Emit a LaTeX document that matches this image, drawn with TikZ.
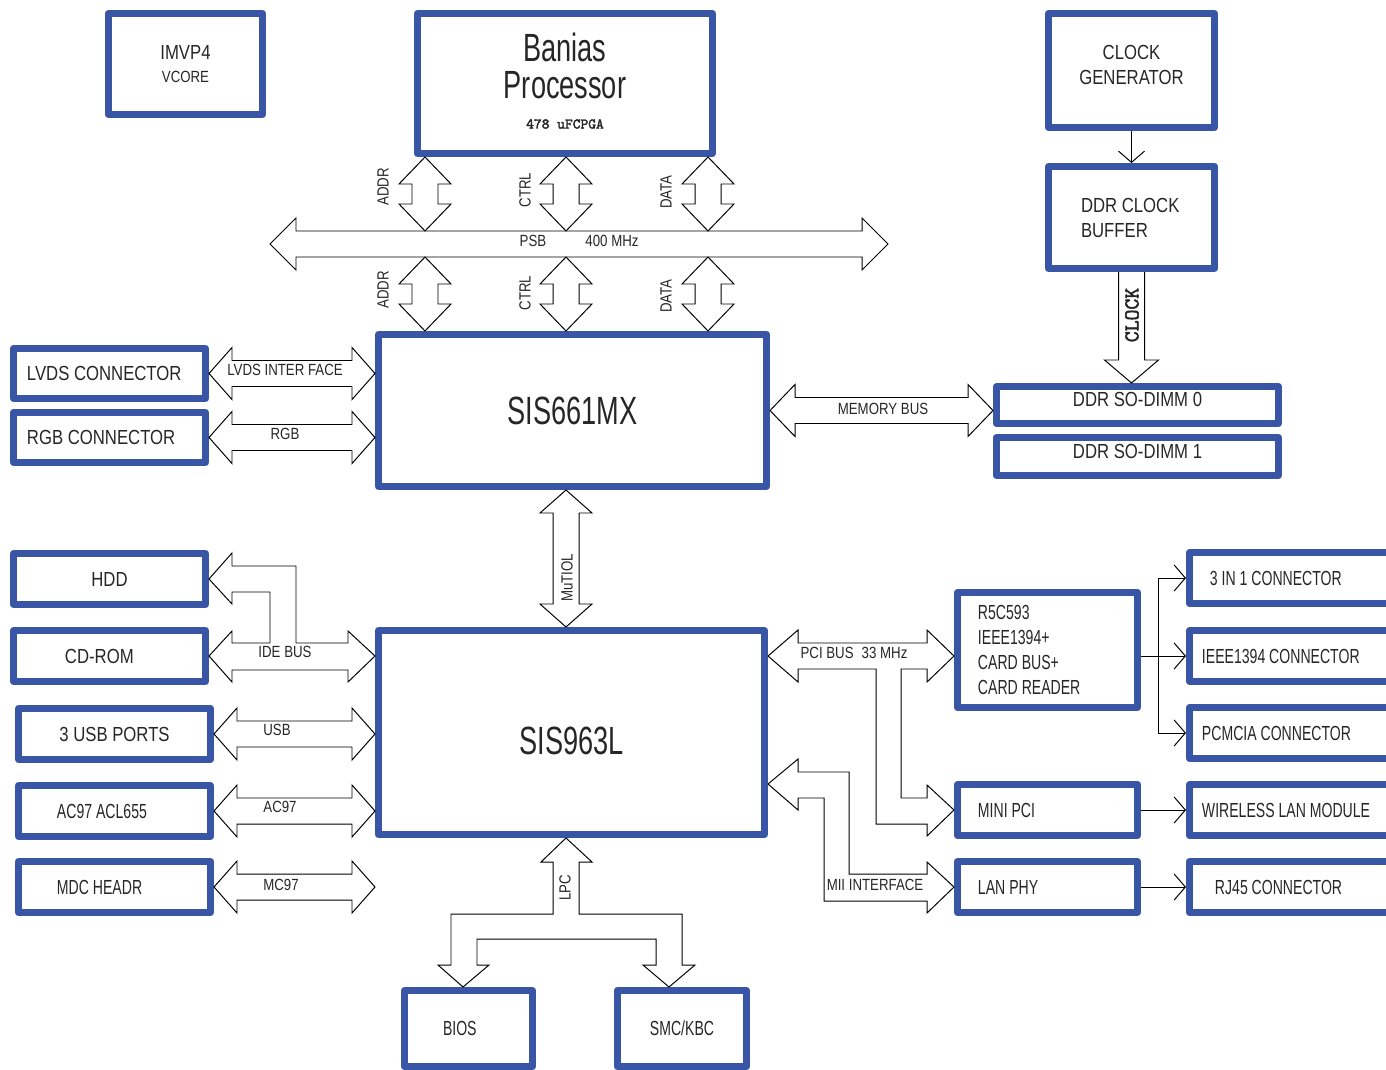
\documentclass[tikz,border=0pt]{standalone}
\usepackage{fontspec}
\setmainfont{Liberation Sans}[FakeStretch=0.82]
\newfontfamily\narrowfont{Liberation Sans}[FakeStretch=0.69]
\newfontfamily\codefont{Latin Modern Mono}[FakeBold=2.5]
\usetikzlibrary{calc,arrows.meta}
\definecolor{boxblue}{RGB}{57,85,165}
\colorlet{ink}{black!85}
\newcommand\midsize{\fontsize{14.5}{17.8}\selectfont}
\newcommand\smallsize{\fontsize{11.5}{14}\selectfont}
\newcommand\bigsize{\fontsize{28}{26.3}\selectfont}
\newcommand\narrowmid{\narrowfont\midsize}
\newcommand\hbus[3][23]{\draw[bus] (#2) -- ++(#1,-26) -- ++(0,13)
  -- ($(#3)+(-#1,-13)$) -- ++(0,-13) -- (#3) -- ++(-#1,26) -- ++(0,-13)
  -- ($(#2)+(#1,13)$) -- ++(0,13) -- cycle;}
\newcommand\vbus[3][23]{\draw[bus] (#2) -- ++(26,#1) -- ++(-13,0)
  -- ($(#3)+(13,-#1)$) -- ++(13,0) -- (#3) -- ++(-26,-#1) -- ++(13,0)
  -- ($(#2)+(-13,#1)$) -- ++(-13,0) -- cycle;}
\begin{document}
\begin{tikzpicture}[
  x=0.025cm, y=-0.025cm,
  every node/.style={text=ink, inner sep=0pt},
  wh/.style 2 args={minimum width=#1*0.025cm, minimum height=#2*0.025cm},
  box/.style={draw=boxblue, line width=0.175cm, line join=round,
    font=\midsize, align=center},
  lbox/.style={box, align=flush left, text width=#1},
  nbox/.style={lbox=#1, font=\narrowmid},
  bus/.style={draw=black, fill=white, line width=0.7pt},
  lab/.style={font=\smallsize},
  barb/.style={-{Straight Barb[length=0.28cm, width=0.65cm]}, line width=0.7pt}
  ]
\useasboundingbox (0,0) rectangle (1386,1070);
\clip (0,0) rectangle (1386,1070);

\node[box, wh={154}{101}] (imvp) at (185.5,64) {IMVP4\\[-2pt]{\smallsize VCORE}};
\node[box, wh={295}{140}, font=\narrowfont\bigsize, text depth=0.9cm]
  (banias) at (565,83.5) {Banias\\Processor};
\node[font=\codefont\fontsize{10.5}{12}\selectfont] (pkg) at (565,124) {478 uFCPGA};
\node[box, wh={166}{114}, text depth=0.275cm] (clkgen) at (1131.5,70.5) {CLOCK\\GENERATOR};
\node[lbox=2.525cm, wh={166}{102}] (clkbuf) at (1131.5,217.5) {DDR~CLOCK\\BUFFER};
\node[box, wh={282}{37}, text depth=0.3cm] (dimm0) at (1137.5,405) {DDR SO-DIMM 0};
\node[box, wh={282}{38}, text depth=0.275cm] (dimm1) at (1137.5,456.5) {DDR SO-DIMM 1};
\node[box, wh={388}{152}, font=\narrowfont\bigsize] (sis661) at (572.5,410.5) {SIS661MX};
\node[box, wh={386}{204}, font=\narrowfont\bigsize, text height=1.1cm]
  (sis963) at (571.5,732.5) {SIS963L};

\node[lbox=4.125cm, wh={192}{50}] (lvds) at (109.5,373.5) {LVDS~CONNECTOR};
\node[lbox=4.125cm, wh={192}{50}] (rgb) at (109.5,437.5) {RGB~CONNECTOR};
\node[box, wh={192}{51}] (hdd) at (109.5,579) {HDD};
\node[lbox=2.225cm, wh={192}{51}] (cdrom) at (109.5,656) {CD-ROM};
\node[box, wh={192}{51}] (usb) at (114.5,734) {3 USB PORTS};
\node[nbox=2.875cm, wh={192}{51}] (ac97) at (114.5,811) {AC97 ACL655};
\node[nbox=2.875cm, wh={192}{51}] (mdc) at (114.5,887) {MDC HEADR};
\node[nbox=1.275cm, wh={128}{76}] (bios) at (468.5,1028.5) {BIOS};
\node[box, wh={129}{76}, font=\narrowmid] (smc) at (682,1028.5) {SMC/KBC};

\node[nbox=3.475cm, wh={180}{115}] (r5c) at (1047.5,650)
  {R5C593\\IEEE1394+\\CARD BUS+\\CARD READER};
\node[nbox=3.475cm, wh={180}{51}] (minipci) at (1047.5,810) {MINI PCI};
\node[nbox=3.475cm, wh={180}{51}] (lanphy) at (1047.5,887) {LAN PHY};
\node[nbox=4.9cm, wh={237}{51}] (in31) at (1308,578) {3 IN 1 CONNECTOR};
\node[nbox=5.3cm, wh={237}{51}] (ieee) at (1308,656) {IEEE1394 CONNECTOR};
\node[nbox=5.3cm, wh={237}{51}] (pcmcia) at (1308,733) {PCMCIA CONNECTOR};
\node[nbox=5.3cm, wh={237}{51}] (wlan) at (1308,810) {WIRELESS LAN MODULE};
\node[nbox=4.65cm, wh={237}{51}] (rj45) at (1308,887) {RJ45 CONNECTOR};

\coordinate (psbL) at (270,244);
\coordinate (psbR) at (888,244);
\hbus[26]{psbL}{psbR}
\foreach \x [count=\i] in {425,566,708} {
  \coordinate (up\i) at (\x,0 |- banias.south);
  \coordinate (dn\i) at (\x,0 |- sis661.north);
  \vbus[27]{up\i}{\x,231}
  \vbus[27]{\x,257}{dn\i}
}
\coordinate (mutop) at (566,0 |- sis661.south);
\coordinate (mubot) at (566,0 |- sis963.north);
\vbus{mutop}{mubot}

\coordinate (lvdsR) at (lvds.east -| sis661.west);
\coordinate (rgbR) at (rgb.east -| sis661.west);
\coordinate (usbR) at (usb.east -| sis963.west);
\coordinate (ac97R) at (ac97.east -| sis963.west);
\coordinate (mdcR) at (mdc.east -| sis963.west);
\coordinate (memR) at (sis661.east -| dimm0.west);
\hbus{lvds.east}{lvdsR}
\hbus{rgb.east}{rgbR}
\hbus{usb.east}{usbR}
\hbus{ac97.east}{ac97R}
\hbus{mdc.east}{mdcR}
\hbus[25]{sis661.east}{memR}

\draw[bus] (cdrom.east) -- (232,631) -- (232,643) -- (270,643) -- (270,592)
  -- (232,592) -- (232,604) -- (hdd.east) -- (232,553) -- (232,566)
  -- (296,566) -- (296,643) -- (348,643) -- (348,631) -- (sis963.west |- cdrom)
  -- (348,682) -- (348,670) -- (232,670) -- (232,682) -- cycle;
\draw[bus] (sis963.east |- ieee) -- (798,630) -- (798,643) -- (927,643)
  -- (927,630) -- (r5c.west |- ieee) -- (927,682) -- (927,669) -- (901,669)
  -- (901,798) -- (927,798) -- (927,785) -- (minipci.west) -- (927,836)
  -- (927,824) -- (876,824) -- (876,669) -- (798,669) -- (798,682) -- cycle;
\draw[bus] (sis963.east |- 0,784) -- (798,759) -- (798,772) -- (849,772)
  -- (849,874) -- (927,874) -- (927,862) -- (lanphy.west) -- (927,913)
  -- (927,901) -- (824,901) -- (824,798) -- (798,798) -- (798,810) -- cycle;
\draw[bus] (566,0 |- sis963.south) -- (592,862) -- (579,862) -- (579,914)
  -- (682,914) -- (682,965) -- (695,965) -- (669,0 |- smc.north) -- (643,965)
  -- (656,965) -- (656,939) -- (477,939) -- (477,965) -- (489,965)
  -- (463,0 |- bios.north) -- (438,965) -- (451,965) -- (451,914)
  -- (553,914) -- (553,862) -- (541,862) -- cycle;
\draw[bus] ($(clkbuf.south)+(-13,0)$) -- ++(0,88) -- ++(-14,0)
  -- (clkbuf.south |- dimm0.north) -- ++(27,-23) -- ++(-14,0)
  -- ($(clkbuf.south)+(13,0)$);

\coordinate (fan) at (1158,656);
\draw[barb] (clkgen) -- (clkbuf);
\draw[barb] (r5c.east |- ieee) -- (ieee.west);
\draw[line width=0.7pt] (fan |- in31) -- (fan |- pcmcia);
\draw[barb] (fan |- in31) -- (in31.west);
\draw[barb] (fan |- pcmcia) -- (pcmcia.west);
\draw[barb] (minipci) -- (wlan);
\draw[barb] (lanphy) -- (rj45);

\node[lab, rotate=90] (addr1) at (383,187) {ADDR};
\node[lab, rotate=90] (ctrl1) at (525,190) {CTRL};
\node[lab, rotate=90] (data1) at (666,192) {DATA};
\node[lab, rotate=90] (addr2) at (383,290) {ADDR};
\node[lab, rotate=90] (ctrl2) at (525,293) {CTRL};
\node[lab, rotate=90] (data2) at (666,296) {DATA};
\node[lab] (psb) at (533,241) {PSB};
\node[lab] (freq) at (612,241) {400 MHz};
\node[lab] (lvdslab) at (285,370) {LVDS INTER FACE};
\node[lab] (rgblab) at (285,434) {RGB};
\node[lab] (memlab) at (883,409) {MEMORY BUS};
\node[lab, rotate=90] (mulab) at (567,578) {MuTIOL};
\node[lab] (idelab) at (285,652) {IDE BUS};
\node[lab] (usblab) at (277,730) {USB};
\node[lab] (ac97lab) at (280,807) {AC97};
\node[lab] (mc97lab) at (281,885) {MC97};
\node[lab] (pcilab) at (854,653) {PCI BUS\hspace{0.5em}33 MHz};
\node[lab] (miilab) at (875,885) {MII INTERFACE};
\node[lab, rotate=90] (lpclab) at (565,888) {LPC};
\node[font=\codefont\fontsize{15}{17}\selectfont, rotate=90]
  (clocklab) at (1132,315) {CLOCK};
\end{tikzpicture}
\end{document}
